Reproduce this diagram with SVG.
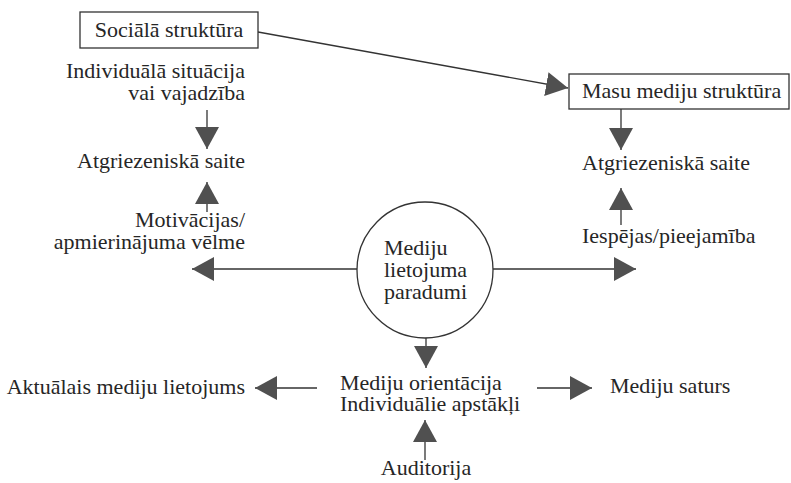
<svg xmlns="http://www.w3.org/2000/svg" width="791" height="483" viewBox="0 0 791 483">
<defs>
<style>
text{font-family:"Liberation Serif","Times New Roman",serif;font-size:22px;fill:#262626}
.r{text-anchor:end}
.m{text-anchor:middle}
.box{fill:#fff;stroke:#333;stroke-width:1.3}
.c{stroke:#333;stroke-width:1.3;fill:none;marker-end:url(#ah)}
</style>
<marker id="ah" markerUnits="userSpaceOnUse" markerWidth="24" markerHeight="26" refX="22" refY="12" orient="auto" viewBox="0 0 24 26">
<path d="M0,0 L22,12 L0,24 Z" fill="#505050"/>
</marker>
</defs>
<rect width="791" height="483" fill="#fff"/>
<g id="connectors">
<line class="c" x1="258" y1="32" x2="568" y2="88"/>
<line class="c" x1="207" y1="110" x2="207" y2="149"/>
<line class="c" x1="207" y1="212" x2="207" y2="182"/>
<line class="c" x1="357" y1="269" x2="192" y2="269"/>
<line class="c" x1="493" y1="269" x2="636" y2="269"/>
<line class="c" x1="621" y1="109" x2="621" y2="150"/>
<line class="c" x1="621" y1="225" x2="621" y2="188"/>
<line class="c" x1="426" y1="338" x2="426" y2="368"/>
<line class="c" x1="317" y1="388" x2="255" y2="388"/>
<line class="c" x1="537" y1="388" x2="592" y2="388"/>
<line class="c" x1="425" y1="460" x2="425" y2="420"/>
</g>
<g id="socialastruktura">
<rect class="box" x="80" y="12" width="178" height="36"/>
<text class="m" x="169" y="37">Sociālā struktūra</text>
</g>
<g id="masumedijustruktura">
<rect class="box" x="569" y="74" width="220" height="35"/>
<text x="582" y="98">Masu mediju struktūra</text>
</g>
<g id="individuala">
<text class="r" x="245" y="78">Individuālā situācija</text>
<text class="r" x="245" y="100">vai vajadzība</text>
</g>
<g id="atgriezeniska-left">
<text class="r" x="245" y="168">Atgriezeniskā saite</text>
</g>
<g id="motivacijas">
<text class="r" x="245" y="227">Motivācijas/</text>
<text class="r" x="245" y="249">apmierinājuma vēlme</text>
</g>
<g id="paradumi">
<circle cx="425" cy="270" r="68" fill="#fff" stroke="#333" stroke-width="1.3"/>
<text x="384" y="255">Mediju</text>
<text x="384" y="277">lietojuma</text>
<text x="384" y="299">paradumi</text>
</g>
<g id="atgriezeniska-right">
<text x="582" y="170">Atgriezeniskā saite</text>
</g>
<g id="iespejas">
<text x="582" y="243">Iespējas/pieejamība</text>
</g>
<g id="orientacija">
<text x="340" y="390">Mediju orientācija</text>
<text x="340" y="411">Individuālie apstākļi</text>
</g>
<g id="aktualais">
<text class="r" x="245" y="394">Aktuālais mediju lietojums</text>
</g>
<g id="saturs">
<text x="610" y="393">Mediju saturs</text>
</g>
<g id="auditorija">
<text class="m" x="426" y="475">Auditorija</text>
</g>
</svg>
